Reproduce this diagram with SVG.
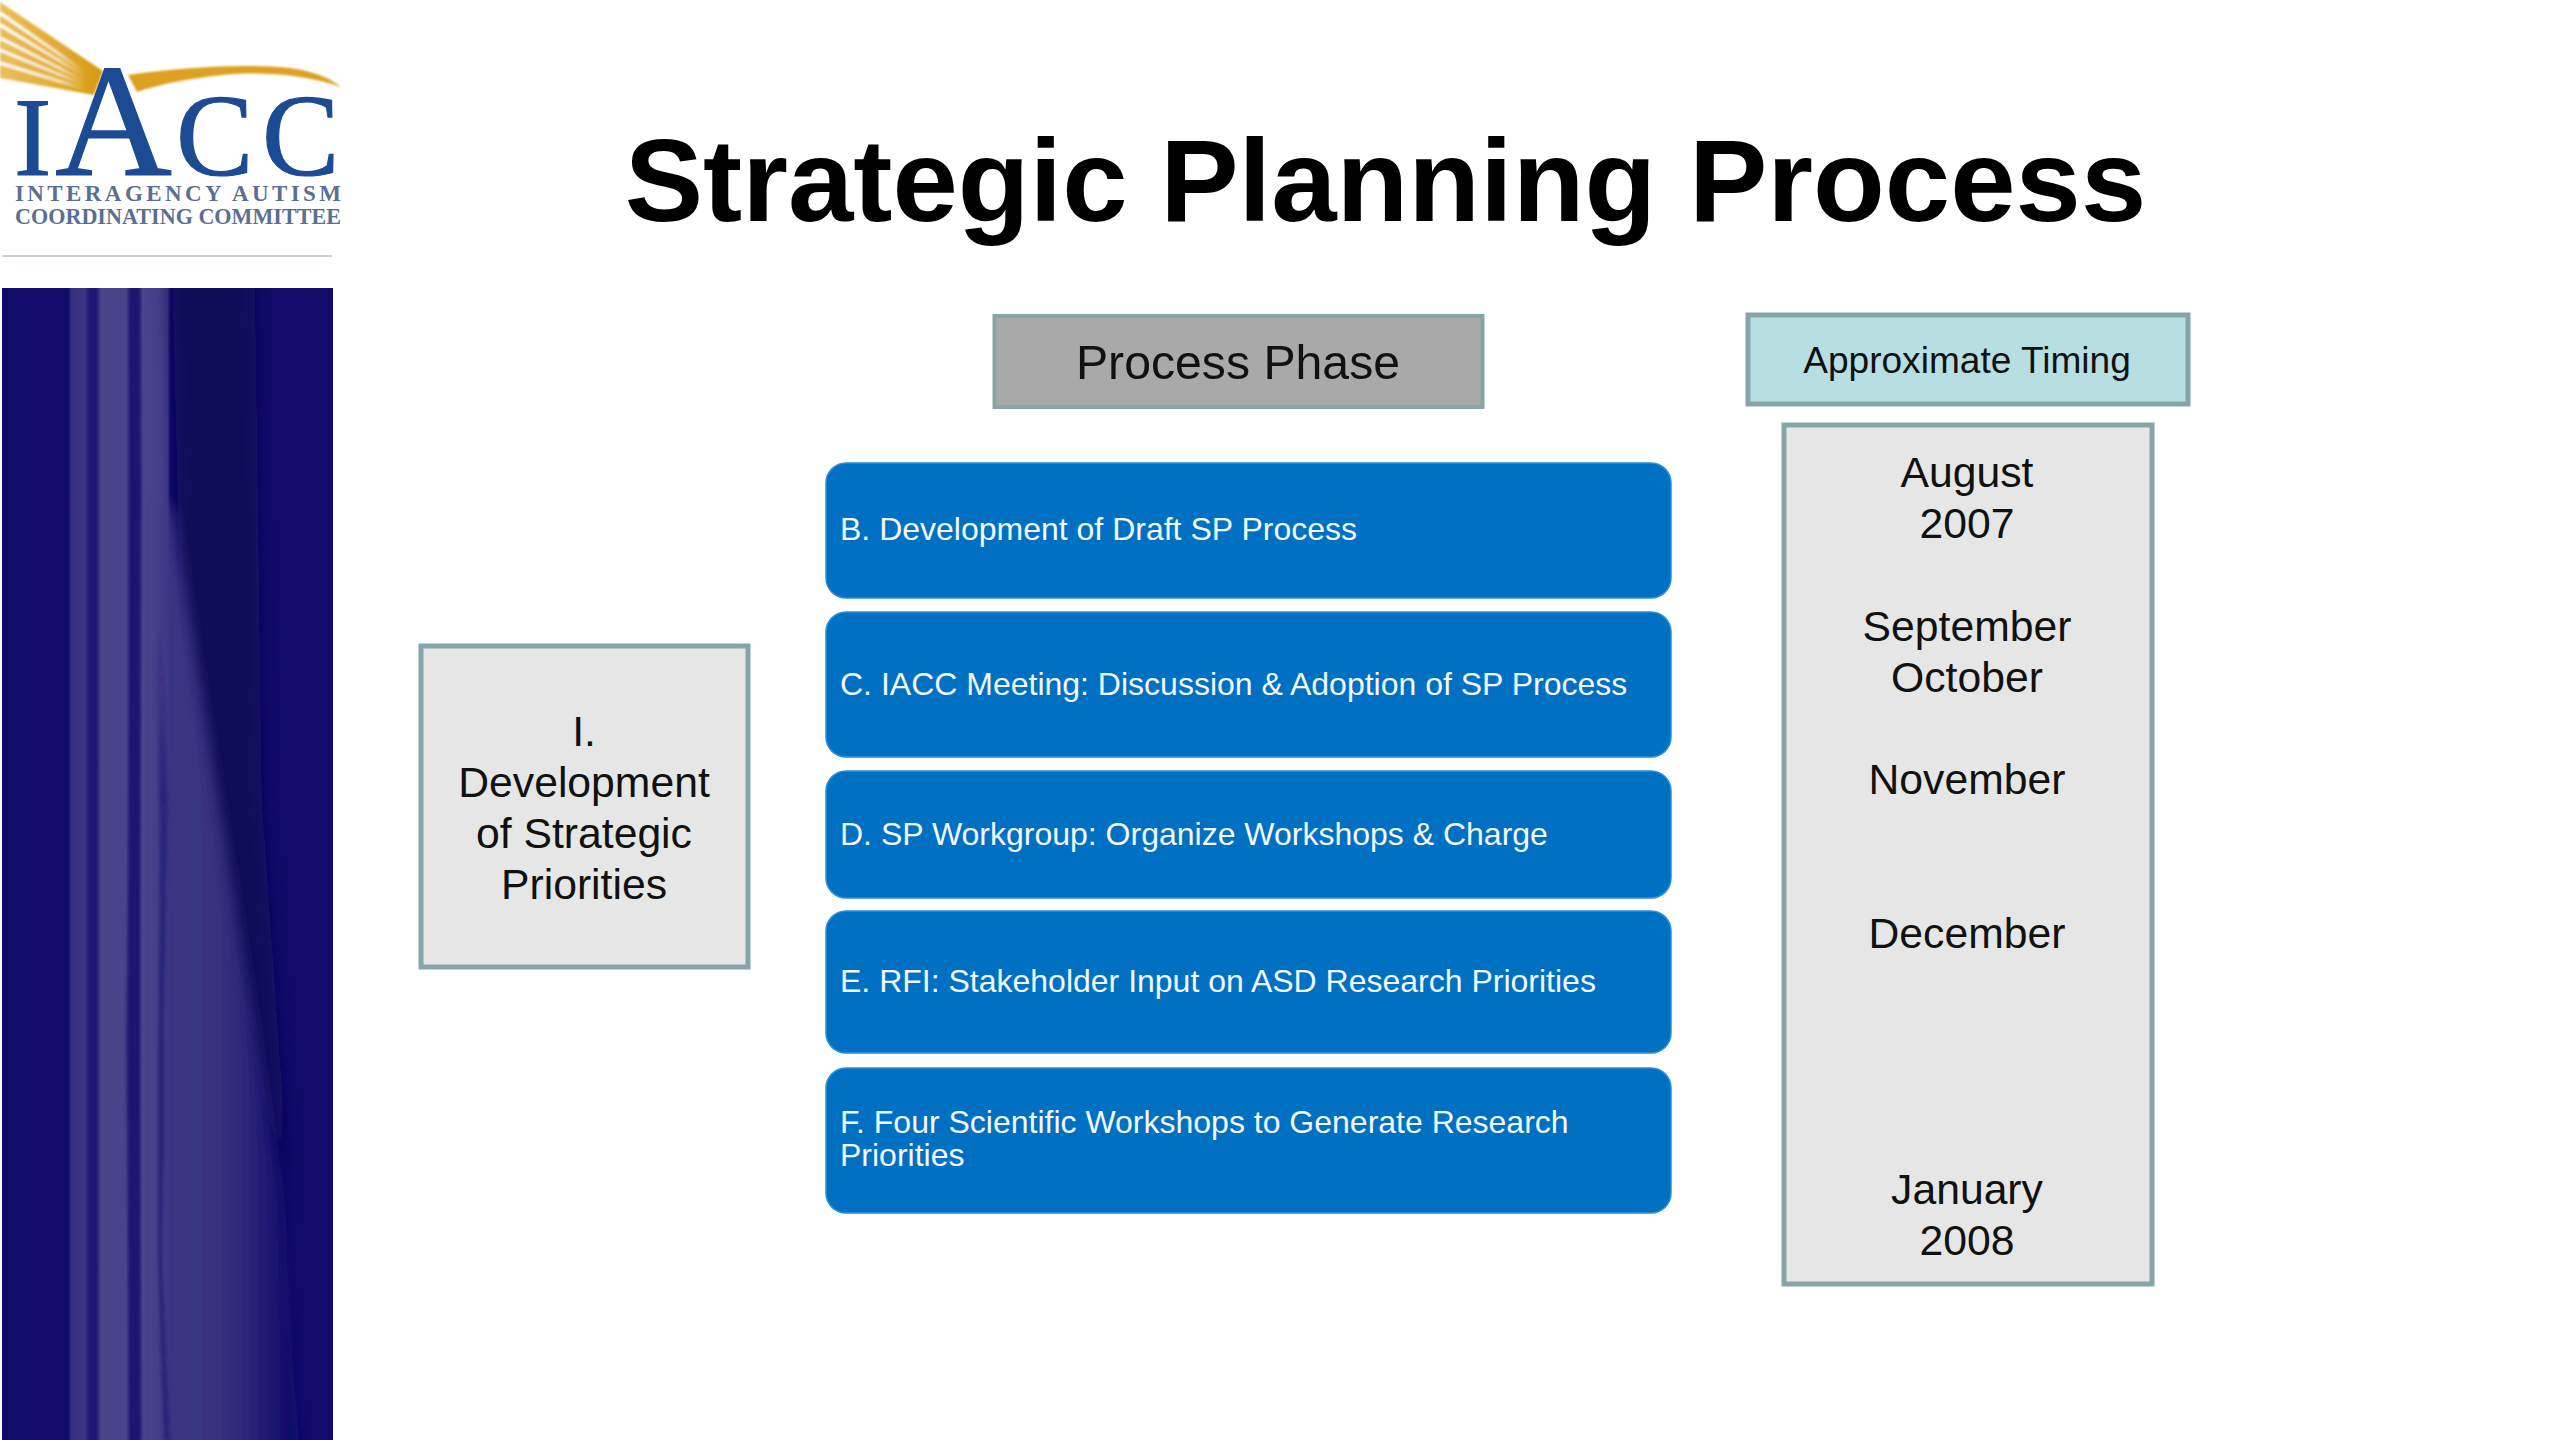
<svg xmlns="http://www.w3.org/2000/svg" width="2560" height="1440" viewBox="0 0 2560 1440">
<style>
text{font-family:"Liberation Sans",Arial,sans-serif}
.c{text-anchor:middle;fill:#111}
.t{font-size:42.700px}
.b{fill:#0070c3;stroke:#2a8fd6;stroke-width:1.5}
.w{fill:#f2f8fc;font-size:32px}
.g{fill:#e6e6e6;stroke:#86a5a8;stroke-width:5}
.s{font-family:"Liberation Serif",serif;fill:#5a6f92;font-weight:bold;font-size:23px}
.l{font-family:"Liberation Serif",serif;fill:#1c4b94;stroke:#1c4b94;stroke-width:1.2}
</style>
<defs>
<linearGradient id="gold" x1="0" x2="103" y1="0" y2="0" gradientUnits="userSpaceOnUse"><stop offset="0" stop-color="#e9c05a"/><stop offset="1" stop-color="#d99a12"/></linearGradient>
<linearGradient id="gap" x1="0" x2="85" y1="0" y2="0" gradientUnits="userSpaceOnUse"><stop offset="0" stop-color="#fff" stop-opacity=".95"/><stop offset=".7" stop-color="#fff" stop-opacity=".6"/><stop offset="1" stop-color="#fff" stop-opacity="0"/></linearGradient>
<linearGradient id="band" x1="2" x2="333" y1="0" y2="0" gradientUnits="userSpaceOnUse">
<stop offset="0" stop-color="#100b69"/><stop offset=".2" stop-color="#100b69"/><stop offset=".21" stop-color="#36307f"/><stop offset=".25" stop-color="#3a3584"/><stop offset=".265" stop-color="#1d1873"/><stop offset=".285" stop-color="#1d1873"/><stop offset=".3" stop-color="#48458b"/><stop offset=".375" stop-color="#474489"/><stop offset=".39" stop-color="#1a1570"/><stop offset=".41" stop-color="#1a1570"/><stop offset=".425" stop-color="#47448c"/><stop offset=".5" stop-color="#45418a"/><stop offset=".51" stop-color="#100b69"/><stop offset="1" stop-color="#100b69"/>
</linearGradient>
<linearGradient id="glow" x1="168" x2="290" y1="0" y2="0" gradientUnits="userSpaceOnUse"><stop offset="0" stop-color="#3c3786"/><stop offset=".4" stop-color="#37327f"/><stop offset=".65" stop-color="#2a2679"/><stop offset="1" stop-color="#100b69"/></linearGradient>
<linearGradient id="fade" x1="0" x2="0" y1="620" y2="820" gradientUnits="userSpaceOnUse"><stop offset="0" stop-color="#1d1873" stop-opacity="0"/><stop offset="1" stop-color="#1d1873" stop-opacity=".7"/></linearGradient>
<filter id="bl" x="-30%" y="-10%" width="160%" height="120%"><feGaussianBlur stdDeviation="7"/></filter>
<filter id="bd" x="-30%" y="-10%" width="160%" height="120%"><feGaussianBlur stdDeviation="10"/></filter>
<filter id="st" x="-100%" y="-5%" width="300%" height="110%"><feGaussianBlur stdDeviation="1.500"/></filter>
<filter id="sf" x="-5%" y="-5%" width="110%" height="110%"><feGaussianBlur stdDeviation=".8"/></filter>
<clipPath id="pc"><rect x="2" y="288" width="331" height="1152"/></clipPath>
</defs>
<rect width="2560" height="1440" fill="#fff"/>
<g id="logo">
<g filter="url(#sf)">
<path d="M0 2L103 71L94 95L0 78Z" fill="url(#gold)"/>
<path d="M0 13L85 72M0 25L85 76M0 38L85 81M0 50L85 85M0 63L85 89" stroke="url(#gap)" stroke-width="3.500" fill="none"/>
<path d="M128 75C190 66 250 64 290 68C313 71 330 78 341 87C310 76 270 72 235 74C195 77 160 84 137 92Z" fill="#dda122"/>
</g>
<text class="l" y="175"><tspan x="14" font-size="112">I</tspan><tspan x="55" font-size="162">A</tspan><tspan x="176" font-size="116">C</tspan><tspan x="262" font-size="116">C</tspan></text>
<text class="s" x="15" y="201" textLength="326">INTERAGENCY  AUTISM</text>
<text class="s" x="15" y="224" textLength="326" lengthAdjust="spacingAndGlyphs">COORDINATING COMMITTEE</text>
<rect x="3" y="255" width="329" height="2" fill="#c9cbdb"/>
</g>
<g id="sidebar">
<rect x="2" y="288" width="331" height="1152" fill="url(#band)"/>
<g clip-path="url(#pc)">
<path d="M172 270L255 270L262 800L292 1230L240 1000L180 600Z" fill="#0a0858" filter="url(#bd)"/>
<path d="M160 500L172 510L200 690L227 857L253 1020L280 1197L300 1460L160 1460Z" fill="url(#glow)" filter="url(#bl)"/>
<path d="M130 288l5 200 -2 200 -3 150 -4 200 3 200 4 202h8l-3-250 -2-200 3-250 2-250 -2-202z" fill="#1a1570" opacity=".8" filter="url(#st)"/>
<path d="M157 620l5 0 6 190 -4 200 0 150 -2 100 8 180h-6l-6-180 0-200 2-200z" fill="url(#fade)" filter="url(#st)"/>
</g>
</g>
<text id="title" x="1385.500" y="221" text-anchor="middle" font-weight="bold" font-size="117.500" fill="#000">Strategic Planning Process</text>
<g id="process-phase"><rect x="994.500" y="316" width="488" height="91" fill="#a9a9a9" stroke="#86a5a8" stroke-width="4"/><text class="c" x="1238" y="379" font-size="48.200">Process Phase</text></g>
<g id="approximate-timing"><rect x="1748" y="315" width="440" height="89" fill="#b7dfe2" stroke="#86a5a8" stroke-width="5"/><text class="c" x="1967" y="373" font-size="37.100">Approximate Timing</text></g>
<g id="phase-one"><rect class="g" x="421" y="646" width="327" height="321"/>
<text class="c t" x="584" y="746">I.</text><text class="c t" x="584" y="797">Development</text><text class="c t" x="584" y="848">of Strategic</text><text class="c t" x="584" y="899">Priorities</text></g>
<g id="step-b"><rect class="b" x="826" y="463" width="845" height="135" rx="20"/><text class="w" x="840" y="540">B. Development of Draft SP Process</text></g>
<g id="step-c"><rect class="b" x="826" y="612" width="845" height="145" rx="20"/><text class="w" x="840" y="695">C. IACC Meeting: Discussion &amp; Adoption of SP Process</text></g>
<g id="step-d"><rect class="b" x="826" y="771" width="845" height="127" rx="20"/><text class="w" x="840" y="845">D. SP Workgroup: Organize Workshops &amp; Charge</text></g>
<g id="step-e"><rect class="b" x="826" y="911" width="845" height="142" rx="20"/><text class="w" x="840" y="992">E. RFI: Stakeholder Input on ASD Research Priorities</text></g>
<g id="step-f"><rect class="b" x="826" y="1068" width="845" height="145" rx="20"/><text class="w" x="840" y="1133">F. Four Scientific Workshops to Generate Research</text><text class="w" x="840" y="1166">Priorities</text></g>
<g id="timing"><rect class="g" x="1784" y="425" width="368" height="859"/>
<text class="c t" x="1967" y="487">August</text><text class="c t" x="1967" y="538">2007</text>
<text class="c t" x="1967" y="641">September</text><text class="c t" x="1967" y="692">October</text>
<text class="c t" x="1967" y="794">November</text><text class="c t" x="1967" y="948">December</text>
<text class="c t" x="1967" y="1204">January</text><text class="c t" x="1967" y="1255">2008</text></g>
<g id="connectors"></g>
</svg>
